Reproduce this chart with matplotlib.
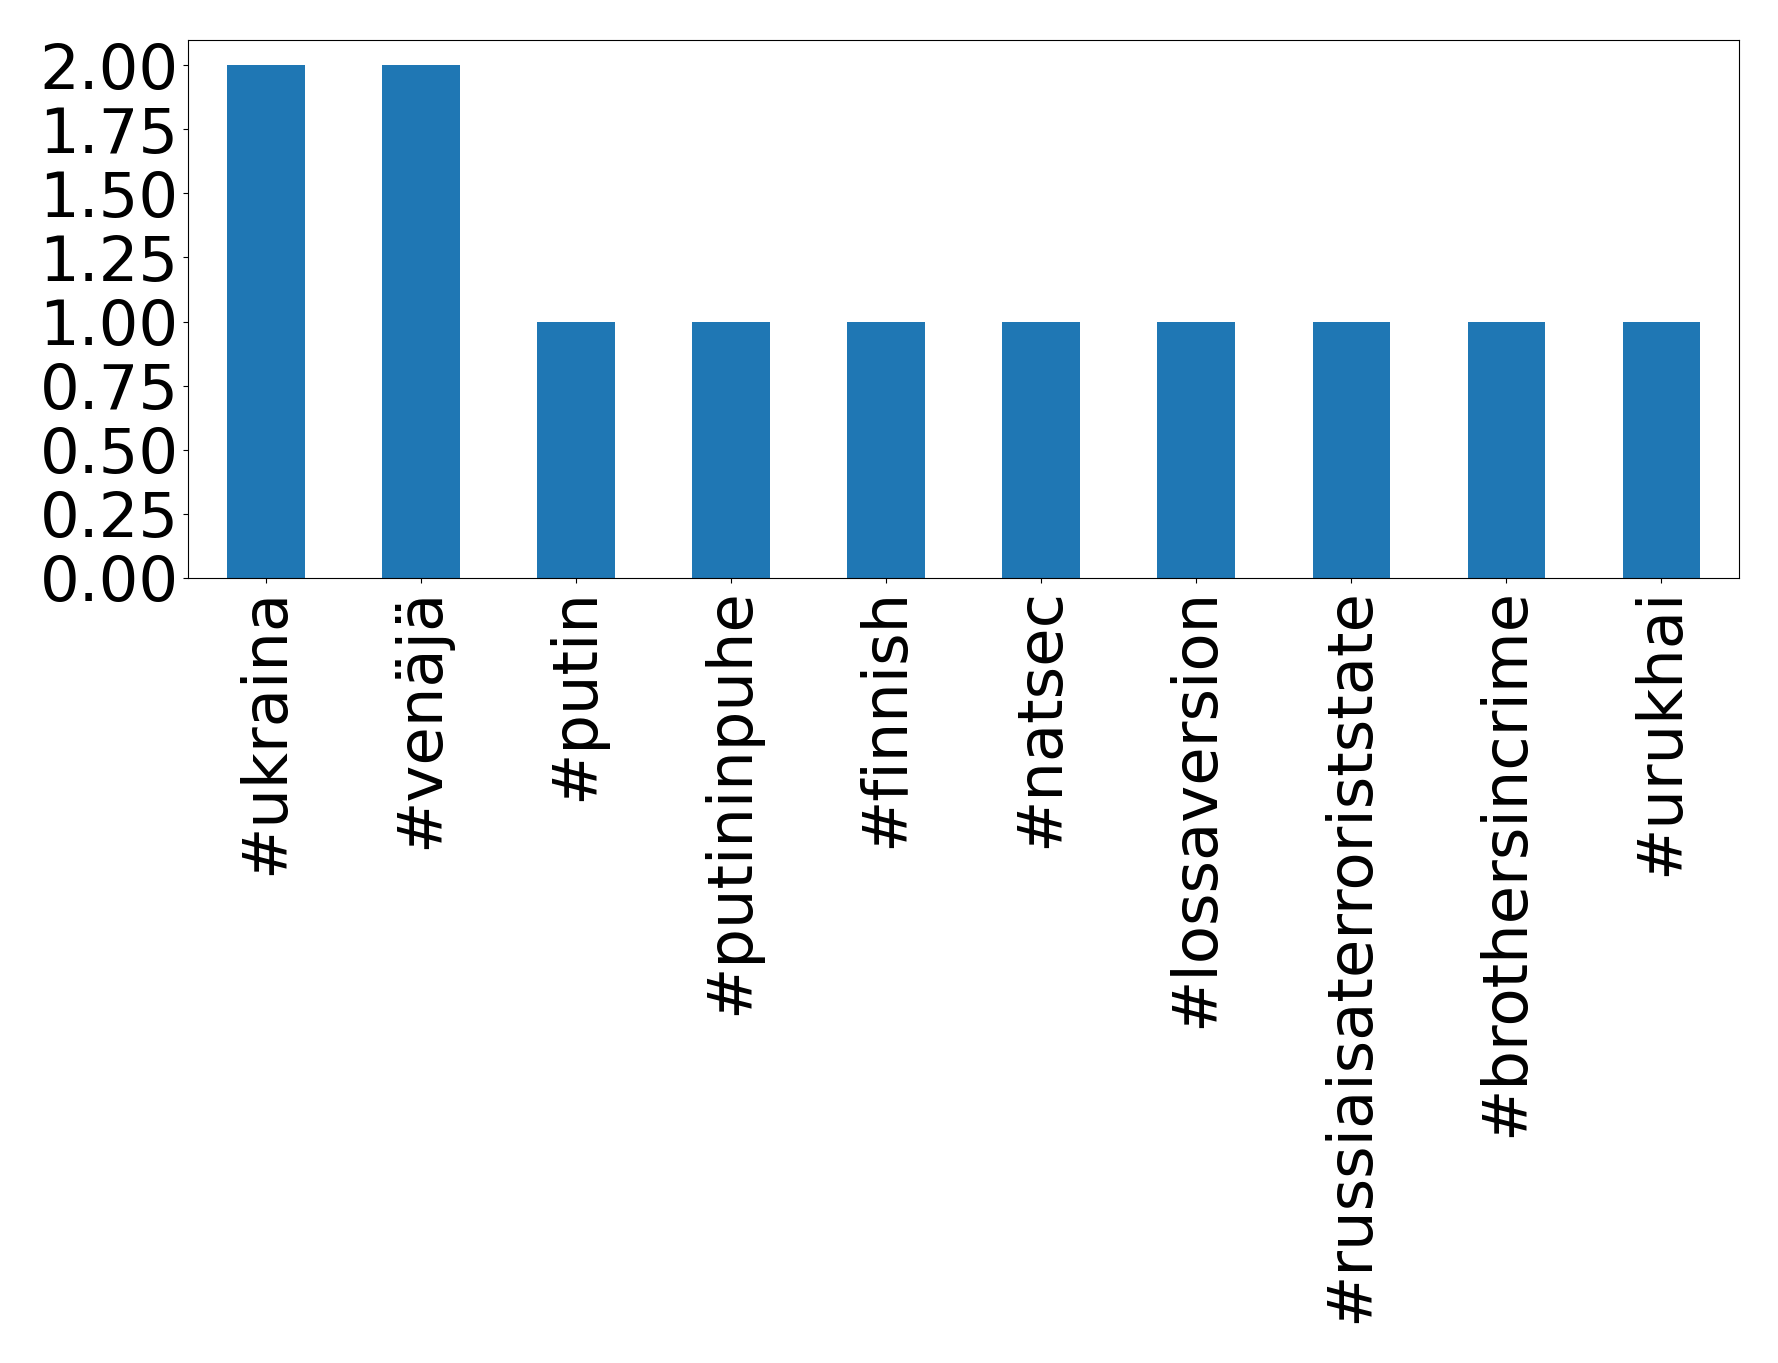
import matplotlib.pyplot as plt
import numpy as np
import pandas as pd

# hashtags and their counts
tags = ["#ukraina", "#venäjä", "#putin", "#putininpuhe", "#finnish",
        "#natsec", "#lossaversion", "#russiaisaterroriststate",
        "#brothersincrime", "#urukhai"]
counts = [2, 2, 1, 1, 1, 1, 1, 1, 1, 1]

s = pd.Series(counts, index=tags)

fig = plt.figure(figsize=(17.78, 13.63), dpi=100)
ax = fig.add_axes([0.106, 0.576, 0.872, 0.395])
s.plot(kind="bar", ax=ax, color="#1f77b4")

ax.set_yticks(np.arange(0, 2.01, 0.25))
ax.set_yticklabels([f"{v:.2f}" for v in np.arange(0, 2.01, 0.25)])
ax.tick_params(axis="both", which="major", labelsize=45)

fig.savefig("out.png", dpi=100)
